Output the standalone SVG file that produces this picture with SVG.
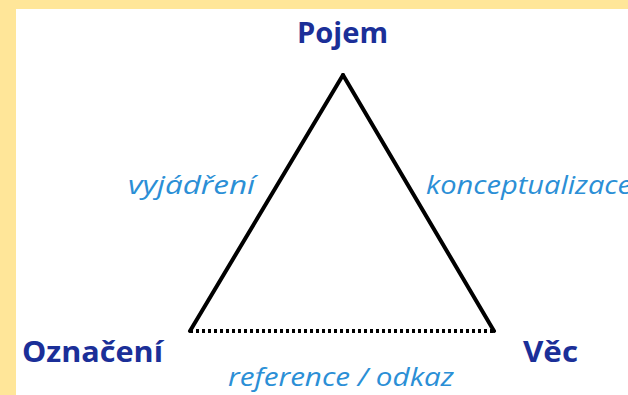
<svg xmlns="http://www.w3.org/2000/svg" width="628" height="395" viewBox="0 0 628 395">
<style>
.node{font-family:"Open Sans","Liberation Sans",sans-serif;font-weight:bold;font-size:28px;fill:#1b2f98}
.lab{font-family:"Open Sans","Liberation Sans",sans-serif;font-style:italic;font-size:25px;fill:#2b8fd6}
.edge{stroke:#000;stroke-width:4;fill:none;stroke-linecap:round}
.dot{stroke:#000;stroke-width:4;fill:none;stroke-dasharray:3 3}
</style>
<rect x="0" y="0" width="628" height="395" fill="#ffe699"/>
<rect x="16" y="9" width="612" height="386" fill="#ffffff"/>
<g id="connectors">
<line class="edge" x1="343" y1="75" x2="190" y2="331"/>
<line class="edge" x1="343" y1="75" x2="494" y2="331"/>
<line class="dot" x1="190" y1="331" x2="494" y2="331"/>
</g>
<g id="pojem"><text class="node" x="297" y="43" textLength="91" lengthAdjust="spacingAndGlyphs">Pojem</text></g>
<g id="oznaceni"><text class="node" x="22" y="362" textLength="141" lengthAdjust="spacingAndGlyphs">Označení</text></g>
<g id="vec"><text class="node" x="523" y="362" textLength="55" lengthAdjust="spacingAndGlyphs">Věc</text></g>
<g id="label-vyjadreni"><text class="lab" x="128" y="194" textLength="127" lengthAdjust="spacingAndGlyphs">vyjádření</text></g>
<g id="label-konceptualizace"><text class="lab" x="426" y="194" textLength="206" lengthAdjust="spacingAndGlyphs">konceptualizace</text></g>
<g id="label-reference"><text class="lab" x="228" y="386" textLength="226" lengthAdjust="spacingAndGlyphs">reference / odkaz</text></g>
</svg>
